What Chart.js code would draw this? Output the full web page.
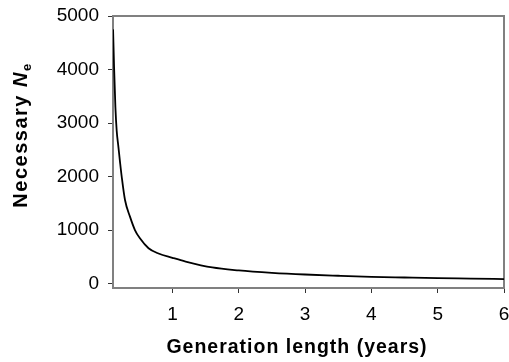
<!DOCTYPE html>
<html>
<head>
<meta charset="utf-8">
<script src="https://cdn.jsdelivr.net/npm/chart.js@4"></script>
<style>
  html, body { margin: 0; padding: 0; background: #fff; }
  #wrap { width: 509px; height: 362px; position: relative; }
</style>
</head>
<body>
<div id="wrap"><canvas id="c" width="509" height="362"></canvas></div>
<script>
// Generation length (years) and the effective population size needed
const genLength = [0.105, 0.12, 0.14, 0.16, 0.185, 0.21, 0.235, 0.285, 0.36, 0.435,
                   0.51, 0.64, 0.79, 1.0, 1.2, 1.6, 2.0, 2.5, 3.0, 3.5, 4.0, 4.5, 5.0, 5.5, 6.0];
const necessaryNe = [4750, 4050, 3300, 2850, 2560, 2270, 2000, 1560, 1250, 1000,
                     845, 660, 560, 480, 410, 300, 245, 200, 168, 145, 125, 112, 100, 92, 83];
const xTicks = [1, 2, 3, 4, 5, 6];
const yTicks = [0, 1000, 2000, 3000, 4000, 5000];

const FONT = "'Liberation Sans', Arial, sans-serif";

const points = genLength.map((g, i) => ({ x: g, y: necessaryNe[i] }));

// Grey frame around the plot, drawn underneath the curve
const frame = {
  id: 'frame',
  beforeDatasetsDraw(chart) {
    const { ctx, chartArea: a } = chart;
    ctx.save();
    ctx.strokeStyle = '#808080';
    ctx.lineWidth = 2;
    ctx.strokeRect(a.left, a.top, a.right - a.left, a.bottom - a.top);
    ctx.restore();
  }
};

// Axis titles (the y title needs an italic N with a subscript e)
const titles = {
  id: 'titles',
  afterDatasetsDraw(chart) {
    const { ctx } = chart;
    ctx.save();
    ctx.fillStyle = '#000';
    ctx.font = 'bold 19.5px ' + FONT;
    ctx.letterSpacing = '1px';
    ctx.textAlign = 'center';
    ctx.textBaseline = 'alphabetic';
    ctx.fillText('Generation length (years)', 297, 353);

    ctx.letterSpacing = '1.5px';
    const p1 = 'Necessary ', p2 = 'N', p3 = 'e';
    const f1 = 'bold 20px ' + FONT, f2 = 'italic bold 20px ' + FONT, f3 = 'bold 13px ' + FONT;
    ctx.textAlign = 'left';
    ctx.font = f1; const w1 = ctx.measureText(p1).width;
    ctx.font = f2; const w2 = ctx.measureText(p2).width;
    ctx.font = f3; const w3 = ctx.measureText(p3).width;
    const total = w1 + w2 + w3;
    ctx.translate(27, 135);
    ctx.rotate(-Math.PI / 2);
    let x = -total / 2;
    ctx.font = f1; ctx.fillText(p1, x, 0); x += w1;
    ctx.font = f2; ctx.fillText(p2, x, 0); x += w2;
    ctx.font = f3; ctx.fillText(p3, x, 4);
    ctx.restore();
  }
};

new Chart(document.getElementById('c'), {
  type: 'scatter',
  data: {
    datasets: [{
      data: points,
      showLine: true,
      borderColor: '#000',
      borderWidth: 1.8,
      pointRadius: 0,
      cubicInterpolationMode: 'monotone',
      fill: false
    }]
  },
  options: {
    responsive: false,
    animation: false,
    layout: { padding: { top: 16, right: 0, left: 0, bottom: 0 } },
    plugins: { legend: { display: false }, tooltip: { enabled: false } },
    scales: {
      x: {
        type: 'linear',
        min: 0.104,
        max: 6,
        afterBuildTicks: s => { s.ticks = xTicks.map(v => ({ value: v })); },
        afterFit: s => { s.height = 74; s.paddingLeft = 0; s.paddingRight = 5; },
        border: { display: false },
        grid: { drawOnChartArea: false, tickLength: 5, tickColor: '#333', lineWidth: 1 },
        ticks: { color: '#000', font: { family: FONT, size: 19 }, padding: 10, maxRotation: 0,
                 callback: v => String(v) }
      },
      y: {
        type: 'linear',
        min: -84,
        max: 5000,
        afterBuildTicks: s => { s.ticks = yTicks.map(v => ({ value: v })); },
        afterFit: s => { s.width = 113; s.paddingTop = 0; s.paddingBottom = 0; },
        border: { display: false },
        grid: { drawOnChartArea: false, tickLength: 5, tickColor: '#333', lineWidth: 1 },
        ticks: { color: '#000', font: { family: FONT, size: 19 }, padding: 9,
                 callback: v => String(v) }
      }
    }
  },
  plugins: [frame, titles]
});
</script>
</body>
</html>
